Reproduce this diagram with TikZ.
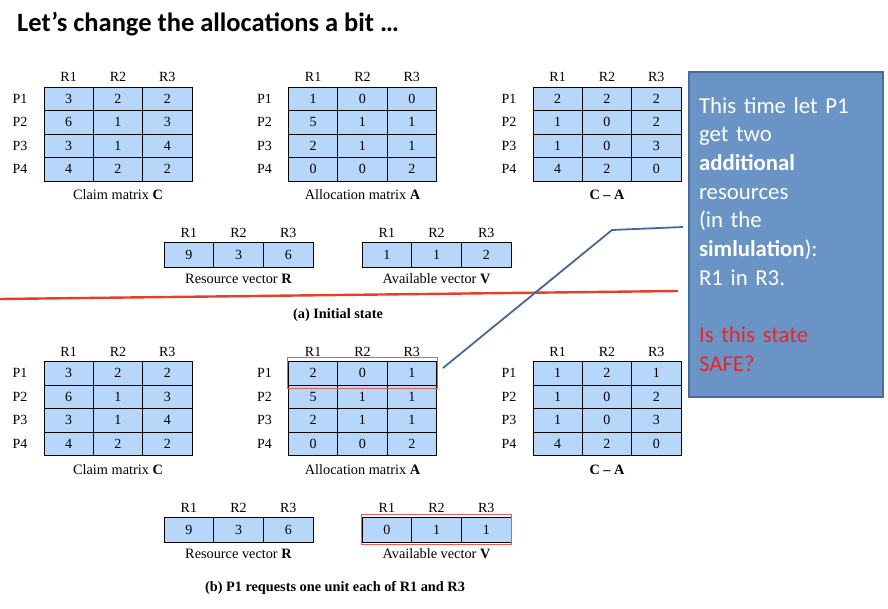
\documentclass[tikz,border=0pt]{standalone}
\usepackage{fontspec}
\setmainfont{Liberation Serif}
\newfontfamily\calib{Carlito}
\usetikzlibrary{fit}
\definecolor{cellblue}{RGB}{182,214,250}
\definecolor{calloutfill}{RGB}{106,148,198}
\definecolor{calloutdraw}{RGB}{72,108,156}
\definecolor{linkblue}{RGB}{72,102,150}
\definecolor{redline}{RGB}{228,64,40}
\definecolor{hilite}{RGB}{232,96,84}
\definecolor{safered}{RGB}{232,38,38}
\tikzset{
  cell/.style={draw=black, line width=0.7pt, fill=cellblue, minimum width=49.3pt,
    minimum height=23.5pt, inner sep=0pt, font=\fontsize{14}{16}\selectfont},
  vcell/.style={cell, minimum width=49.7pt, minimum height=25pt},
  hdr/.style={inner sep=0pt, font=\fontsize{14}{16}\selectfont},
  lbl/.style={inner sep=0pt, font=\fontsize{14}{16}\selectfont},
  captext/.style={inner sep=0pt, font=\fontsize{14.3}{17}\selectfont},
  subcap/.style={inner sep=0pt, font=\fontsize{14.3}{17}\selectfont\bfseries},
  hl/.style={draw=hilite, line width=1pt, inner sep=0pt},
  link/.style={draw=linkblue, line width=1.8pt},
  sepline/.style={draw=redline, line width=2.4pt},
  callout/.style={draw=calloutdraw, line width=1.5pt, fill=calloutfill,
    minimum width=194pt, minimum height=325pt, inner xsep=10pt, inner ysep=0pt,
    text width=174pt, align=left, text=white,
    font=\calib\fontsize{22.8}{28.7}\selectfont},
  title/.style={inner sep=0pt, font=\calib\bfseries\fontsize{26.5}{30}\selectfont}
}
% #1 name, #2 left x, #3 top y, #4 rows, #5 caption
\newcommand\drawmat[5]{%
  \foreach \h [count=\c] in {R1,R2,R3}
    \node[hdr] (#1-h\c) at ({#2+(\c-0.5)*49.3},{#3-10}) {\h};
  \foreach \p [count=\r] in {P1,P2,P3,P4}
    \node[lbl] (#1-p\r) at ({#2-24},{#3+(\r-0.5)*23.5}) {\p};
  \foreach \rowvals [count=\r] in {#4} {
    \foreach \v [count=\c] in \rowvals
      \node[cell] (#1-\r-\c) at ({#2+(\c-0.5)*49.3},{#3+(\r-0.5)*23.5}) {\v};
  }
  \node[captext] (#1-cap) at ({#2+74},{#3+94+14}) {#5};
}
% #1 name, #2 left x, #3 top y, #4 values, #5 caption
\newcommand\drawvec[5]{%
  \foreach \h [count=\c] in {R1,R2,R3}
    \node[hdr] (#1-h\c) at ({#2+(\c-0.5)*49.7},{#3-9}) {\h};
  \foreach \v [count=\c] in {#4}
    \node[vcell] (#1-\c) at ({#2+(\c-0.5)*49.7},{#3+12.5}) {\v};
  \node[captext] (#1-cap) at ({#2+74.5},{#3+37}) {#5};
}
\begin{document}
\begin{tikzpicture}[x=1pt,y=-1pt]
\useasboundingbox[fill=white] (0,0) rectangle (888,609);

\node[title, anchor=base west] (ttl) at (17,32) {Let’s change the allocations a bit …};

% (a) initial state
\drawmat{ca}{44}{87}{{3,2,2},{6,1,3},{3,1,4},{4,2,2}}{Claim matrix \textbf{C}}
\drawmat{aa}{288.5}{87}{{1,0,0},{5,1,1},{2,1,1},{0,0,2}}{Allocation matrix \textbf{A}}
\drawmat{da}{533}{87}{{2,2,2},{1,0,2},{1,0,3},{4,2,0}}{\textbf{C – A}}
\drawvec{ra}{164}{242}{9,3,6}{Resource vector \textbf{R}}
\drawvec{va}{362}{242}{1,1,2}{Available vector \textbf{V}}
\node[subcap] (capa) at (338,315) {(a) Initial state};

% (b) after request
\drawmat{cb}{44}{361.5}{{3,2,2},{6,1,3},{3,1,4},{4,2,2}}{Claim matrix \textbf{C}}
\drawmat{ab}{288.5}{361.5}{{2,0,1},{5,1,1},{2,1,1},{0,0,2}}{Allocation matrix \textbf{A}}
\drawmat{db}{533}{361.5}{{1,2,1},{1,0,2},{1,0,3},{4,2,0}}{\textbf{C – A}}
\drawvec{rb}{164}{517}{9,3,6}{Resource vector \textbf{R}}
\drawvec{vb}{362}{517}{0,1,1}{Available vector \textbf{V}}
\node[subcap] (capb) at (335,588) {(b) P1 requests one unit each of R1 and R3};

% highlights
\node[hl, fit=(ab-1-1)(ab-1-3), inner xsep=1pt, inner ysep=3.5pt] (hlA) {};
\node[hl, fit=(vb-1)(vb-3), inner xsep=0pt, inner ysep=2pt] (hlV) {};

% separator line
\coordinate (sepL) at (0,299);
\coordinate (sepR) at (678,291);
\draw[sepline] (sepL) -- (sepR);

% callout
\node[callout] (note) at (786,234.5) {This time let P1\\
get two\\
\textbf{additional}\\
resources\\
(in the\\
\textbf{simlulation}):\\
R1 in R3.\\[28.7pt]
\textcolor{safered}{Is this state}\\
\textcolor{safered}{SAFE?}};

\coordinate (lkA) at (443,368);
\coordinate (lkB) at (612,230);
\coordinate (lkC) at (683,227);
\draw[link] (lkA) -- (lkB) -- (lkC);
\end{tikzpicture}
\end{document}
